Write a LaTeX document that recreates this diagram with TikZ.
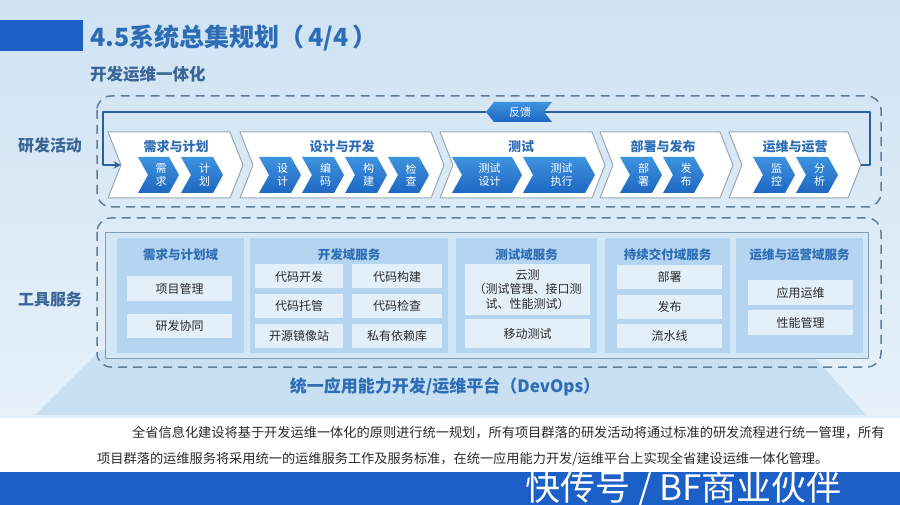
\documentclass[tikz,border=0pt]{standalone}
\usepackage{fontspec}
\setmainfont{Noto Sans CJK SC}
\definecolor{titleblue}{HTML}{2D6DB5}
\definecolor{labelblue}{HTML}{3A6597}
\definecolor{dashgray}{HTML}{5F7F98}
\definecolor{fbblue}{HTML}{2F5E9C}
\definecolor{chevlight}{HTML}{3E93DE}
\definecolor{chevdark}{HTML}{1E67C2}
\definecolor{chevgray}{HTML}{9AA8B4}
\definecolor{colfill}{HTML}{B5D4EF}
\definecolor{itemfill}{HTML}{E3EFF9}
\definecolor{panelfill}{HTML}{D3E6F5}
\definecolor{panelline}{HTML}{7E9CB4}
\definecolor{platfill}{HTML}{C9E0F3}
\definecolor{bgtop}{HTML}{CFE3F3}
\definecolor{bgbottom}{HTML}{E6F1FA}
\definecolor{barblue}{HTML}{1C5FC6}
\definecolor{textgray}{HTML}{2A2A2A}
\usetikzlibrary{positioning}

\newcommand{\fsz}[2]{\fontsize{#1}{#2}\selectfont}
% chevron: name, style, left x, tip x, top y, bottom y, depth
\newcommand{\chevron}[7]{%
  \path[#2] (#3,#5) -- ({#4-#7},#5) -- (#4,{(#5+#6)/2}) -- ({#4-#7},#6) -- (#3,#6) -- ({#3+#7},{(#5+#6)/2}) -- cycle;
  \coordinate (#1-in) at ({#3+#7},{(#5+#6)/2});
  \coordinate (#1-out) at (#4,{(#5+#6)/2});
  \coordinate (#1) at ({(#3+#4)/2+#7/4},{(#5+#6)/2});}

\begin{document}
\begin{tikzpicture}[x=1pt, y=-1pt, >=stealth, line join=round,
  dashbox/.style={draw=dashgray, line width=1.5pt, dash pattern=on 9pt off 6pt, rounded corners=14pt},
  sectlabel/.style={text=labelblue, font=\fsz{16}{19}\bfseries, inner sep=0pt},
  stagechev/.style={fill=white, draw=chevgray, line width=1pt},
  stagetitle/.style={text=titleblue, font=\fsz{13}{15}\bfseries, inner sep=0pt},
  smallchev/.style={top color=chevlight, bottom color=chevdark},
  smalltext/.style={text=white, font=\fsz{11}{12.5}, align=center, inner sep=0pt},
  fbline/.style={draw=fbblue, line width=2.2pt},
  colbox/.style 2 args={fill=colfill, minimum width=#1, minimum height=#2, inner sep=0pt},
  colhead/.style={text=titleblue, font=\fsz{12.5}{15}\bfseries, inner sep=0pt},
  itembox/.style 2 args={fill=itemfill, minimum width=#1, minimum height=#2, inner sep=0pt,
    text=textgray, font=\fsz{12}{14.5}, align=center},
  bodytext/.style={anchor=west, text=textgray, font=\fsz{13.2}{16}, inner sep=0pt}]

\useasboundingbox (0,0) rectangle (900,505);
\begin{scope}
\clip (0,0) rectangle (900,505);

% background
\shade[top color=bgtop, bottom color=bgbottom] (0,0) rectangle (900,418);
\fill[white] (0,418) rectangle (900,472);
\fill[barblue] (0,472) rectangle (900,505);
\fill[platfill] (100,350) -- (808,350) -- (866,415) -- (35,415) -- cycle;

% title
\fill[barblue] (0,20) rectangle (83,51);
\node[anchor=west, inner sep=0pt, text=titleblue, font=\fsz{25}{30}\bfseries] (title) at (90,38) {4.5系统总集规划（\,4/4\,）};
\node[anchor=west, inner sep=0pt, text=labelblue, font=\fsz{16.5}{19}\bfseries] (subtitle) at (90,74) {开发运维一体化};

% frames
\draw[dashbox] (97,96) rectangle (881,207);
\draw[dashbox] (97,218) rectangle (881,367);
\node[sectlabel] (actlabel) at (50,145) {研发活动};
\node[sectlabel] (toollabel) at (50,299) {工具服务};

% stages
\chevron{s1}{stagechev}{108}{243}{132}{198}{13}
\chevron{s2}{stagechev}{240}{444}{132}{198}{13}
\chevron{s3}{stagechev}{440}{605}{132}{198}{13}
\chevron{s4}{stagechev}{600}{733}{132}{198}{13}
\chevron{s5}{stagechev}{729}{861}{132}{198}{13}
\node[stagetitle] (s1t) at (176,147) {需求与计划};
\node[stagetitle] (s2t) at (342,147) {设计与开发};
\node[stagetitle] (s3t) at (521,147) {测试};
\node[stagetitle] (s4t) at (663,147) {部署与发布};
\node[stagetitle] (s5t) at (795,147) {运维与运营};

\chevron{a1}{smallchev}{138}{179}{157}{193}{10}
\chevron{a2}{smallchev}{181}{223}{157}{193}{10}
\chevron{b1}{smallchev}{259}{301}{157}{193}{10}
\chevron{b2}{smallchev}{302}{344}{157}{193}{10}
\chevron{b3}{smallchev}{345}{387}{157}{193}{10}
\chevron{b4}{smallchev}{388}{429}{157}{193}{10}
\chevron{c1}{smallchev}{452}{522}{157}{193}{10}
\chevron{c2}{smallchev}{523}{595}{157}{193}{10}
\chevron{d1}{smallchev}{620}{662}{157}{193}{10}
\chevron{d2}{smallchev}{663}{704}{157}{193}{10}
\chevron{e1}{smallchev}{753}{795}{157}{193}{10}
\chevron{e2}{smallchev}{796}{838}{157}{193}{10}
\node[smalltext] (a1t) at (a1) {需\\求};
\node[smalltext] (a2t) at (a2) {计\\划};
\node[smalltext] (b1t) at (b1) {设\\计};
\node[smalltext] (b2t) at (b2) {编\\码};
\node[smalltext] (b3t) at (b3) {构\\建};
\node[smalltext] (b4t) at (b4) {检\\查};
\node[smalltext] (c1t) at (c1) {测试\\设计};
\node[smalltext] (c2t) at (c2) {测试\\执行};
\node[smalltext] (d1t) at (d1) {部\\署};
\node[smalltext] (d2t) at (d2) {发\\布};
\node[smalltext] (e1t) at (e1) {监\\控};
\node[smalltext] (e2t) at (e2) {分\\析};

% feedback
\coordinate (fb-l) at (486,112);
\coordinate (fb-r) at (544,112);
\draw[fbline] (fb-r) -- (870,112) |- (s5-out);
\draw[fbline,->] (fb-l) -- (103,112) |- (s1-in);
\path[smallchev] (486,112) -- (494,102) -- (552,102) -- (544,112) -- (552,122) -- (494,122) -- cycle;
\node[smalltext] (fb) at (520,112) {反馈};

% tool services
\draw[panelline, fill=panelfill, line width=0.9pt] (105,232) rectangle (868,358);
\node[colbox={127}{115}] (col1) at (180.5,295.5) {};
\node[colbox={198}{115}] (col2) at (349,295.5) {};
\node[colbox={141}{115}] (col3) at (526.5,295.5) {};
\node[colbox={125}{115}] (col4) at (667.5,295.5) {};
\node[colbox={127}{115}] (col5) at (799.5,295.5) {};
\node[colhead] (h1) at (180.5,255) {需求与计划域};
\node[colhead] (h2) at (349,255) {开发域服务};
\node[colhead] (h3) at (526.5,255) {测试域服务};
\node[colhead] (h4) at (667.5,255) {持续交付域服务};
\node[colhead] (h5) at (799.5,255) {运维与运营域服务};

\node[itembox={105}{24}] (pm) at (179.5,288.5) {项目管理};
\node[itembox={105}{24}] (rd) at (179.5,325.5) {研发协同};

\node[itembox={88}{24}] (dev1) at (299,276.5) {代码开发};
\node[itembox={90}{24}] (dev2) at (397,276.5) {代码构建};
\node[itembox={88}{24}] (dev3) at (299,306) {代码托管};
\node[itembox={90}{24}] (dev4) at (397,306) {代码检查};
\node[itembox={88}{24}] (dev5) at (299,335.5) {开源镜像站};
\node[itembox={90}{24}] (dev6) at (397,335.5) {私有依赖库};

\node[itembox={125}{51}] (cloud) at (527.5,289.5) {云测\\（测试管理、接口测\\试、性能测试）};
\node[itembox={125}{29}] (mobile) at (527.5,333.5) {移动测试};

\node[itembox={105}{24}] (dep) at (669.5,277) {部署};
\node[itembox={105}{24}] (rel) at (669.5,306.5) {发布};
\node[itembox={105}{24}] (pipe) at (669.5,336) {流水线};

\node[itembox={105}{25}] (ops) at (800.5,292.5) {应用运维};
\node[itembox={105}{25}] (perf) at (800.5,322.5) {性能管理};

\node[text=titleblue, font=\fsz{17}{20}\bfseries, inner sep=0pt] (plat) at (445,387) {统一应用能力开发/运维平台（DevOps）};

% text
\node[bodytext] (line1) at (132,433) {全省信息化建设将基于开发运维一体化的原则进行统一规划，所有项目群落的研发活动将通过标准的研发流程进行统一管理，所有};
\node[bodytext] (line2) at (97,459) {项目群落的运维服务将采用统一的运维服务工作及服务标准，在统一应用能力开发/运维平台上实现全省建设运维一体化管理。};
\node[anchor=base west, inner sep=0pt, text=white, font=\fsz{35}{40}] (mark) at (525,500) {快传号 / BF商业伙伴};
\end{scope}
\end{tikzpicture}
\end{document}
